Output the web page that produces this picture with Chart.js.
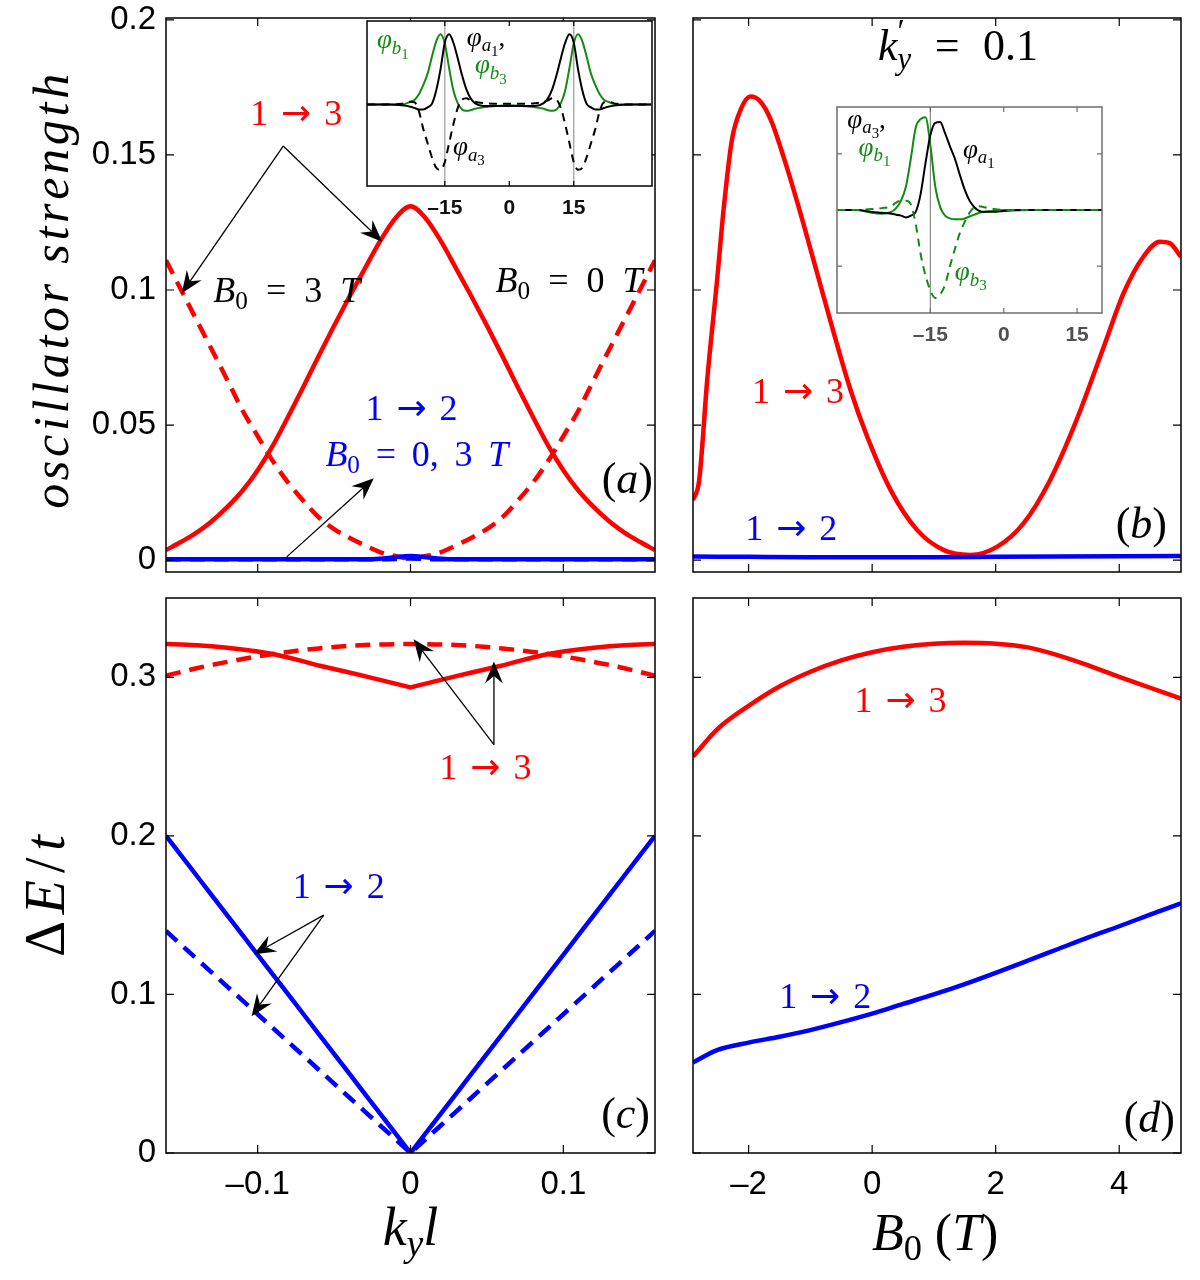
<!DOCTYPE html>
<html><head><meta charset="utf-8">
<script src="https://cdn.jsdelivr.net/npm/chart.js@4.4.1/dist/chart.umd.min.js"></script>
<style>
html,body{margin:0;padding:0;background:#fff;}
#wrap{position:relative;width:1200px;height:1280px;overflow:hidden;background:#fff;}
canvas{position:absolute;left:0;top:0;width:1200px;height:1280px;}
</style></head><body>
<div id="wrap">
<canvas id="cA" width="1200" height="1280"></canvas>
<canvas id="cB" width="1200" height="1280"></canvas>
<canvas id="cC" width="1200" height="1280"></canvas>
<canvas id="cD" width="1200" height="1280"></canvas>
<canvas id="cIA" width="1200" height="1280"></canvas>
<canvas id="cIB" width="1200" height="1280"></canvas>
</div>
<script>
// ---------------- DATA ----------------
const kyGrid = [-0.16,-0.15,-0.14,-0.13,-0.12,-0.11,-0.10,-0.09,-0.08,-0.07,-0.06,-0.05,-0.04,-0.03,-0.02,-0.01,0,0.01,0.02,0.03,0.04,0.05,0.06,0.07,0.08,0.09,0.10,0.11,0.12,0.13,0.14,0.15,0.16];

// (a) oscillator strength vs k_y l
const oscA13_B0 = [0.0037,0.0068,0.0102,0.0144,0.0196,0.0257,0.0333,0.0425,0.0532,0.0643,0.0757,0.0868,0.0975,0.1078,0.1180,0.1265,0.1310,0.1265,0.1180,0.1078,0.0975,0.0868,0.0757,0.0643,0.0532,0.0425,0.0333,0.0257,0.0196,0.0144,0.0102,0.0068,0.0037];
const oscA13_B3 = [0.1110,0.0999,0.0889,0.0779,0.0668,0.0555,0.0459,0.0366,0.0286,0.0219,0.0158,0.0115,0.0083,0.0055,0.0030,0.0015,0.0006,0.0015,0.0030,0.0055,0.0083,0.0115,0.0158,0.0219,0.0286,0.0366,0.0459,0.0555,0.0668,0.0779,0.0889,0.0999,0.1110];
const oscA12_B0 = [0.0003,0.0003,0.0003,0.0003,0.0003,0.0003,0.0003,0.0003,0.0003,0.0003,0.0003,0.0003,0.0003,0.0003,0.0005,0.0011,0.0015,0.0011,0.0005,0.0003,0.0003,0.0003,0.0003,0.0003,0.0003,0.0003,0.0003,0.0003,0.0003,0.0003,0.0003,0.0003,0.0003];
const oscA12_B3 = [0.0003,0.0003,0.0003,0.0003,0.0003,0.0003,0.0003,0.0003,0.0003,0.0003,0.0003,0.0003,0.0003,0.0003,0.0003,0.0004,0.0006,0.0004,0.0003,0.0003,0.0003,0.0003,0.0003,0.0003,0.0003,0.0003,0.0003,0.0003,0.0003,0.0003,0.0003,0.0003,0.0003];

// (b) oscillator strength vs B0 (k'_y = 0.1)
const b0B13 = [-2.9,-2.8,-2.67,-2.51,-2.4,-2.27,-2.13,-1.97,-1.81,-1.64,-1.43,-1.16,-0.89,-0.62,-0.35,-0.08,0.3,0.73,1.16,1.59,2.02,2.45,2.88,3.31,3.75,4.07,4.39,4.66,4.82,5.0];
const oscB13 = [0.0222,0.0296,0.0667,0.1037,0.1309,0.1556,0.1667,0.1716,0.1698,0.1630,0.1490,0.1284,0.1062,0.0840,0.0630,0.0457,0.0259,0.0111,0.0037,0.0019,0.0049,0.0136,0.0296,0.0519,0.0790,0.0988,0.1123,0.1179,0.1173,0.1123];
const b0B12 = [-2.9,-2,-1,0,1,2,3,4,5];
const oscB12 = [0.0013,0.0012,0.0011,0.0011,0.0011,0.0012,0.0013,0.0014,0.0015];

// (c) Delta E / t vs k_y l
const dEC13_B0 = [0.3210,0.3207,0.3202,0.3195,0.3186,0.3175,0.3162,0.3147,0.3125,0.3100,0.3074,0.3052,0.3030,0.3007,0.2984,0.2960,0.2936,0.2960,0.2984,0.3007,0.3030,0.3052,0.3074,0.3100,0.3125,0.3147,0.3162,0.3175,0.3186,0.3195,0.3202,0.3207,0.3210];
const dEC13_B3 = [0.3010,0.3034,0.3057,0.3078,0.3097,0.3115,0.3132,0.3147,0.3160,0.3172,0.3182,0.3191,0.3198,0.3203,0.3207,0.3209,0.3210,0.3209,0.3207,0.3203,0.3198,0.3191,0.3182,0.3172,0.3160,0.3147,0.3132,0.3115,0.3097,0.3078,0.3057,0.3034,0.3010];
const dEC12_B0 = [0.2000,0.1875,0.1750,0.1625,0.1500,0.1375,0.1250,0.1125,0.1000,0.0875,0.0750,0.0625,0.0500,0.0375,0.0250,0.0125,0.0000,0.0125,0.0250,0.0375,0.0500,0.0625,0.0750,0.0875,0.1000,0.1125,0.1250,0.1375,0.1500,0.1625,0.1750,0.1875,0.2000];
const dEC12_B3 = [0.1400,0.1313,0.1225,0.1138,0.1050,0.0963,0.0875,0.0788,0.0700,0.0613,0.0525,0.0438,0.0350,0.0263,0.0175,0.0088,0.0000,0.0088,0.0175,0.0263,0.0350,0.0438,0.0525,0.0613,0.0700,0.0788,0.0875,0.0963,0.1050,0.1138,0.1225,0.1313,0.1400];

// (d) Delta E / t vs B0
const b0D = [-2.9,-2.5,-2,-1.5,-1,-0.5,0,0.5,1,1.5,2,2.5,3,3.5,4,4.5,5];
const dED13 = [0.2500,0.2675,0.2820,0.2942,0.3035,0.3107,0.3158,0.3192,0.3212,0.3218,0.3212,0.3190,0.3140,0.3075,0.3003,0.2934,0.2865];
const dED12 = [0.0571,0.0650,0.0696,0.0733,0.0775,0.0825,0.0879,0.0940,0.1000,0.1065,0.1136,0.1210,0.1285,0.1360,0.1430,0.1503,0.1575];

// inset (a) wavefunctions
const xInsetA = [-33,-28,-25,-23,-22,-21,-20,-19,-18,-17,-16,-15,-14,-13,-12,-11,-10,-9,-8,-6,-3,0,3,6,8,9,10,11,12,13,14,15,16,17,18,19,20,21,22,23,25,28,33];
const phiA1_insA = [0,0,-0.01,-0.03,-0.05,-0.07,-0.07,-0.04,0.01,0.2,0.5,0.88,1.0,0.88,0.66,0.42,0.22,0.09,0.02,-0.02,-0.02,-0.02,-0.02,-0.02,0.02,0.09,0.22,0.42,0.66,0.88,1.0,0.88,0.5,0.2,0.01,-0.04,-0.07,-0.07,-0.05,-0.03,-0.01,0,0];
const phiB1_insA = [0,0,0,0.04,0.07,0.15,0.28,0.44,0.68,0.9,1.0,0.87,0.52,0.2,0.02,-0.07,-0.09,-0.08,-0.06,-0.04,-0.02,-0.01,-0.02,-0.04,-0.06,-0.08,-0.09,-0.07,0.02,0.2,0.52,0.87,1.0,0.9,0.68,0.44,0.28,0.15,0.07,0.04,0,0,0];
const phiA3_insA = [0,0,0.01,0.04,0.03,-0.1,-0.35,-0.55,-0.75,-0.9,-0.93,-0.82,-0.55,-0.28,-0.05,0.07,0.09,0.06,0.04,0.02,0.01,0.01,0.01,0.02,0.04,0.06,0.09,0.07,-0.05,-0.28,-0.55,-0.82,-0.93,-0.9,-0.75,-0.55,-0.35,-0.1,0.03,0.04,0.01,0,0];

// inset (b) wavefunctions
const xInsetB = [-34,-30,-27,-25,-23,-22,-21,-20,-19,-18,-17,-16,-15,-14,-13,-12,-11,-10,-9,-8,-7,-6,-5,-4,-2,0,5,10,15,20.1];
const phiA1_insB = [0,0,-0.02,-0.03,-0.04,-0.05,-0.06,-0.08,-0.06,-0.02,0.17,0.5,0.8,0.93,0.94,0.82,0.68,0.55,0.38,0.22,0.1,0.03,-0.01,-0.02,-0.02,-0.01,0,0,0,0];
const phiB1_insB = [0,0,-0.03,-0.04,-0.02,0.02,0.1,0.25,0.55,0.88,0.97,0.99,0.69,0.25,0.03,-0.06,-0.09,-0.1,-0.1,-0.09,-0.07,-0.05,-0.03,-0.02,-0.01,0,0,0,0,0];
const phiB3_insB = [0,0,0.01,0.02,0.04,0.08,0.1,0.1,0.06,-0.15,-0.47,-0.7,-0.86,-0.94,-0.9,-0.8,-0.6,-0.42,-0.25,-0.13,-0.03,0.03,0.04,0.03,0.01,0,0,0,0,0];

// ticks
const oscTicks = [0,0.05,0.1,0.15,0.2];
const oscTickLabels = ['0','0.05','0.1','0.15','0.2'];
const dETicks = [0,0.1,0.2,0.3];
const dETickLabels = ['0','0.1','0.2','0.3'];
const kyTicks = [-0.1,0,0.1];
const kyTickLabels = ['\u20130.1','0','0.1'];
const b0Ticks = [-2,0,2,4];
const b0TickLabels = ['\u20132','0','2','4'];
const insetTicks = [-15,0,15];
const insetTickLabels = ['\u201315','0','15'];
const insetAVLines = [-15,15];
const insetBVLines = [-15];
const insetBYTicks = [-0.6,0.6];

// ---------------- STYLE ----------------
const RED = '#ff0000', BLUE = '#0000ff', GREEN = '#138a13', BLACK = '#000000';
const SERIF = '"Liberation Serif","DejaVu Serif",serif';
const ARROWFONT = '"DejaVu Sans",sans-serif';
const SANS = '"Liberation Sans",Arial,Helvetica,sans-serif';
const PAGE_W = 1200, PAGE_H = 1280;

const pts = (xs, ys) => xs.map((x, i) => ({x: x, y: ys[i]}));

function segStyle(st) {
  return ({r:[0,1,0,SERIF], i:[1,1,0,SERIF], s:[0,0.7,0.2,SERIF], si:[1,0.7,0.2,SERIF],
           ss:[0,0.55,0.38,SERIF], p:[0,0.75,-0.42,SERIF], a:[0,1,0,ARROWFONT]})[st];
}
function layoutRich(ctx, segs, size, sp, mode) {
  let x = 0, items = [], prevStart = 0, prevEnd = 0, maxX = 0, nChar = 0, nSpace = 0;
  for (const sg of segs) {
    const t = sg[0], st = sg[1], back = sg[2];
    const s = segStyle(st);
    const font = (s[0] ? 'italic ' : '') + Math.round(size * s[1] * 10) / 10 + 'px ' + s[3];
    ctx.font = font;
    let start = back ? prevStart : x;
    let cx = start;
    Array.from(t).forEach(c => {
      const w = ctx.measureText(c).width;
      items.push({t: c, font: font, x: cx, dy: s[2] * size});
      cx += w;
      if (c === ' ') { nSpace++; if (mode === 'space') cx += sp; }
      nChar++;
      if (mode === 'char' && sp) cx += sp;
    });
    const end = cx;
    x = back ? Math.max(end, prevEnd) : end;
    prevStart = start; prevEnd = end;
    maxX = Math.max(maxX, x);
  }
  if (mode === 'char' && sp) maxX -= sp;
  return {items: items, width: maxX, nChar: nChar, nSpace: nSpace};
}
function drawRich(ctx, segs, x, y, size, color, align, rot, fit, fitMode) {
  ctx.save();
  ctx.translate(x, y);
  if (rot) ctx.rotate(rot);
  ctx.fillStyle = color;
  ctx.textBaseline = 'alphabetic';
  ctx.textAlign = 'left';
  let L = layoutRich(ctx, segs, size, 0, null);
  if (fit) {
    const mode = fitMode || 'space';
    const n = mode === 'space' ? L.nSpace : Math.max(1, L.nChar - 1);
    if (n > 0) L = layoutRich(ctx, segs, size, (fit - L.width) / n, mode);
  }
  const x0 = align === 'center' ? -L.width / 2 : (align === 'right' ? -L.width : 0);
  for (const it of L.items) {
    ctx.font = it.font;
    ctx.fillText(it.t, x0 + it.x, it.dy);
  }
  ctx.restore();
}
function drawArrow(ctx, x1, y1, x2, y2) {
  const dx = x2 - x1, dy = y2 - y1, len = Math.hypot(dx, dy);
  const ux = dx / len, uy = dy / len, nx = -uy, ny = ux;
  const L = 22, W = 9, N = 0.66;
  ctx.save();
  ctx.strokeStyle = '#000'; ctx.lineWidth = 1.3;
  ctx.beginPath(); ctx.moveTo(x1, y1); ctx.lineTo(x2 - ux * L * N, y2 - uy * L * N); ctx.stroke();
  ctx.fillStyle = '#000';
  ctx.beginPath();
  ctx.moveTo(x2, y2);
  ctx.lineTo(x2 - ux * L + nx * W, y2 - uy * L + ny * W);
  ctx.lineTo(x2 - ux * L * N, y2 - uy * L * N);
  ctx.lineTo(x2 - ux * L - nx * W, y2 - uy * L - ny * W);
  ctx.closePath(); ctx.fill();
  ctx.restore();
}
function px(chart, v, off) {
  const a = chart.chartArea;
  const p = v === 'left' ? a.left : v === 'right' ? a.right : chart.scales.x.getPixelForValue(v);
  return p + (off || 0);
}
function py(chart, v, off) {
  const a = chart.chartArea;
  const p = v === 'top' ? a.top : v === 'bottom' ? a.bottom : chart.scales.y.getPixelForValue(v);
  return p + (off || 0);
}

function deco(spec) {
  return {
    id: 'deco',
    beforeDraw(chart) {
      if (!spec.bg) return;
      const a = chart.chartArea, ctx = chart.ctx;
      ctx.save(); ctx.fillStyle = '#fff';
      ctx.fillRect(a.left, a.top, a.right - a.left, a.bottom - a.top);
      ctx.restore();
    },
    beforeDatasetsDraw(chart) {
      if (!spec.vlines) return;
      const a = chart.chartArea, ctx = chart.ctx;
      ctx.save(); ctx.strokeStyle = spec.vlineColor || '#999'; ctx.lineWidth = 1.2;
      for (const v of spec.vlines) {
        const x = chart.scales.x.getPixelForValue(v);
        ctx.beginPath(); ctx.moveTo(x, a.top); ctx.lineTo(x, a.bottom); ctx.stroke();
      }
      ctx.restore();
    },
    afterDatasetsDraw(chart) {
      const a = chart.chartArea, ctx = chart.ctx;
      ctx.save();
      ctx.strokeStyle = spec.frameColor || '#000';
      ctx.lineWidth = spec.frameWidth || 1.5;
      ctx.strokeRect(a.left, a.top, a.right - a.left, a.bottom - a.top);
      const tl = spec.tickLen || 8;
      ctx.lineWidth = 1.2;
      for (const v of (spec.xMarks || [])) {
        const x = chart.scales.x.getPixelForValue(v);
        ctx.beginPath();
        ctx.moveTo(x, a.bottom); ctx.lineTo(x, a.bottom - tl);
        ctx.moveTo(x, a.top); ctx.lineTo(x, a.top + tl);
        ctx.stroke();
      }
      for (const v of (spec.yMarks || [])) {
        const y = chart.scales.y.getPixelForValue(v);
        ctx.beginPath();
        ctx.moveTo(a.left, y); ctx.lineTo(a.left + tl, y);
        ctx.moveTo(a.right, y); ctx.lineTo(a.right - tl, y);
        ctx.stroke();
      }
      ctx.restore();
      for (const ar of (spec.arrows || [])) {
        drawArrow(ctx, px(chart, ar[0]), py(chart, ar[1]), px(chart, ar[2]), py(chart, ar[3]));
      }
      for (const t of (spec.texts || [])) {
        drawRich(ctx, t.segs, px(chart, t.ax, t.dx), py(chart, t.ay, t.dy), t.size, t.color || '#000',
                 t.align || 'left', t.rot || 0, t.fit, t.fitMode);
      }
    }
  };
}

function line(data, color, width, dash, mono) {
  return {data: data, borderColor: color, borderWidth: width, borderDash: dash || [], pointRadius: 0,
          fill: false, tension: 0, cubicInterpolationMode: mono ? 'monotone' : 'default',
          borderCapStyle: 'butt', borderJoinStyle: 'round'};
}

function zeroPad(s) { s.paddingTop = 0; s.paddingBottom = 0; s.paddingLeft = 0; s.paddingRight = 0; }

function makeChart(id, box, xr, yr, datasets, o) {
  const tickFont = o.tickFont || {family: SANS, size: 33};
  return new Chart(document.getElementById(id), {
    type: 'line',
    data: {datasets: datasets},
    options: {
      responsive: false, animation: false, devicePixelRatio: 1, events: [],
      layout: {padding: {left: 0, top: box.t, right: PAGE_W - box.r, bottom: 0}},
      plugins: {legend: {display: false}, tooltip: {enabled: false}},
      scales: {
        x: {type: 'linear', position: 'bottom', min: xr[0], max: xr[1],
            grid: {display: false, drawTicks: false}, border: {display: false},
            ticks: {display: !!o.xLabels, font: tickFont, color: o.tickColor || '#000', padding: o.xPad || 12,
                    maxRotation: 0, autoSkip: false,
                    callback: v => o.xLabels ? o.xLabels[o.xTicks.indexOf(v)] : ''},
            afterBuildTicks: s => { s.ticks = (o.xTicks || []).map(v => ({value: v})); },
            afterFit: s => { s.height = PAGE_H - box.b; zeroPad(s); }},
        y: {type: 'linear', position: 'left', min: yr[0], max: yr[1],
            grid: {display: false, drawTicks: false}, border: {display: false},
            ticks: {display: !!o.yLabels, font: tickFont, color: '#000', padding: 10, autoSkip: false,
                    callback: v => o.yLabels ? o.yLabels[o.yTicks.indexOf(v)] : ''},
            afterBuildTicks: s => { s.ticks = (o.yTicks || []).map(v => ({value: v})); },
            afterFit: s => { s.width = box.l; zeroPad(s); }}
      }
    },
    plugins: [deco(o.deco)]
  });
}

const S = (t, st, back) => [t, st, back];
const trans = (a, b) => [S(a + ' ', 'r'), S('\u2192', 'a'), S(' ' + b, 'r')];

// ---------------- PANEL (a) ----------------
makeChart('cA', {l:166, t:18, r:655, b:572}, [-0.16, 0.16], [-0.0044, 0.2007], [
  line(pts(kyGrid, oscA12_B3), BLUE, 4.5, [15, 9], true),
  line(pts(kyGrid, oscA12_B0), BLUE, 4.5, null, true),
  line(pts(kyGrid, oscA13_B0), RED, 4.5, null, true),
  line(pts(kyGrid, oscA13_B3), RED, 4.5, [15, 9], true)
], {
  xTicks: kyTicks, yTicks: oscTicks, yLabels: oscTickLabels,
  deco: {
    xMarks: kyTicks, yMarks: oscTicks,
    arrows: [[-0.0833, 0.1533, -0.0186, 0.1179], [-0.0833, 0.1533, -0.1497, 0.0988], [-0.081, 0.0012, -0.024, 0.0303]],
    texts: [
      {ax: -0.0748, ay: 0.1611, segs: trans('1', '3'), size: 36, color: RED, align: 'center', fit: 92},
      {ax: -0.129, ay: 0.0957, segs: [S('B','i'), S('0','s'), S(' = 3 ','r'), S('T','i')], size: 36, fit: 147},
      {ax: 0.0557, ay: 0.0994, segs: [S('B','i'), S('0','s'), S(' = 0 ','r'), S('T','i')], size: 36, fit: 147},
      {ax: 0.0007, ay: 0.0519, segs: trans('1', '2'), size: 36, color: BLUE, align: 'center', fit: 92},
      {ax: -0.0557, ay: 0.0348, segs: [S('B','i'), S('0','s'), S(' = 0, 3 ','r'), S('T','i')], size: 36, color: BLUE, fit: 183},
      {ax: 'right', dx: -2, ay: 0.0248, segs: [S('(','r'), S('a','i'), S(')','r')], size: 44, align: 'right'},
      {ax: 'left', dx: -98, ay: 0.0995, segs: [S('oscillator strength','i')], size: 50, align: 'center', rot: -Math.PI / 2, fit: 435, fitMode: 'char'}
    ]
  }
});

// ---------------- PANEL (b) ----------------
makeChart('cB', {l:693, t:18, r:1181, b:572}, [-2.9, 5.0], [-0.0044, 0.2007], [
  line(pts(b0B12, oscB12), BLUE, 4.5, null, true),
  line(pts(b0B13, oscB13), RED, 4.5, null, true)
], {
  xTicks: b0Ticks, yTicks: oscTicks,
  deco: {
    xMarks: b0Ticks, yMarks: oscTicks,
    texts: [
      {ax: 1.39, ay: 0.185, segs: [S('k','i'), S('\u2032','p'), S('y','si',true), S(' = 0.1','r')], size: 44, align: 'center', fit: 160},
      {ax: -1.2, ay: 0.0581, segs: trans('1', '3'), size: 36, color: RED, align: 'center', fit: 92},
      {ax: -1.31, ay: 0.0074, segs: trans('1', '2'), size: 36, color: BLUE, align: 'center', fit: 92},
      {ax: 'right', dx: -14, ay: 0.0081, segs: [S('(','r'), S('b','i'), S(')','r')], size: 44, align: 'right'}
    ]
  }
});

// ---------------- PANEL (c) ----------------
makeChart('cC', {l:166, t:598, r:655, b:1153}, [-0.16, 0.16], [0, 0.35], [
  line(pts(kyGrid, dEC13_B3), RED, 4.5, [15, 9], true),
  line(pts(kyGrid, dEC13_B0), RED, 4.5),
  line(pts(kyGrid, dEC12_B3), BLUE, 4.5, [15, 9]),
  line(pts(kyGrid, dEC12_B0), BLUE, 4.5)
], {
  xTicks: kyTicks, xLabels: kyTickLabels, yTicks: dETicks, yLabels: dETickLabels,
  deco: {
    xMarks: kyTicks, yMarks: dETicks,
    arrows: [[0.0546, 0.2575, 0.002, 0.324], [0.0546, 0.2575, 0.0546, 0.310], [-0.0568, 0.150, -0.1026, 0.1253], [-0.0568, 0.150, -0.104, 0.0862]],
    texts: [
      {ax: 0.049, ay: 0.2356, segs: trans('1', '3'), size: 36, color: RED, align: 'center', fit: 92},
      {ax: -0.047, ay: 0.161, segs: trans('1', '2'), size: 36, color: BLUE, align: 'center', fit: 92},
      {ax: 'right', dx: -5, ay: 0.0155, segs: [S('(','r'), S('c','i'), S(')','r')], size: 44, align: 'right'},
      {ax: 'left', dx: -102, ay: 0.162, segs: [S('\u0394','r'), S('E','i'), S('/','r'), S('t','i')], size: 56, align: 'center', rot: -Math.PI / 2, fit: 122, fitMode: 'char'},
      {ax: 0, ay: 'bottom', dy: 92, segs: [S('k','i'), S('y','si'), S('l','i')], size: 54, align: 'center'}
    ]
  }
});

// ---------------- PANEL (d) ----------------
makeChart('cD', {l:693, t:598, r:1181, b:1153}, [-2.9, 5.0], [0, 0.35], [
  line(pts(b0D, dED13), RED, 4.5, null, true),
  line(pts(b0D, dED12), BLUE, 4.5, null, true)
], {
  xTicks: b0Ticks, xLabels: b0TickLabels, yTicks: dETicks,
  deco: {
    xMarks: b0Ticks, yMarks: dETicks,
    texts: [
      {ax: 0.46, ay: 0.278, segs: trans('1', '3'), size: 36, color: RED, align: 'center', fit: 92},
      {ax: -0.76, ay: 0.0916, segs: trans('1', '2'), size: 36, color: BLUE, align: 'center', fit: 92},
      {ax: 'right', dx: -6, ay: 0.013, segs: [S('(','r'), S('d','i'), S(')','r')], size: 44, align: 'right'},
      {ax: 1.02, ay: 'bottom', dy: 97, segs: [S('B','i'), S('0','s'), S(' (','r'), S('T','i'), S(')','r')], size: 52, align: 'center'}
    ]
  }
});

// ---------------- INSET (a) ----------------
const phiLbl = (l, n, comma) => [S('\u03c6','i'), S(l,'si'), S(n,'ss')].concat(comma ? [S(',','r')] : []);
makeChart('cIA', {l:367, t:21, r:652, b:186}, [-33.1, 33.2], [-1.16, 1.19], [
  line(pts(xInsetA, phiA3_insA), BLACK, 2, [8, 6], true),
  line(pts(xInsetA, phiA1_insA), BLACK, 2, null, true),
  line(pts(xInsetA, phiB1_insA), GREEN, 2, null, true)
], {
  xTicks: insetTicks, xLabels: insetTickLabels, tickFont: {family: SANS, size: 21, weight: 'bold'}, tickColor: '#111', xPad: 10,
  deco: {
    bg: true, frameColor: '#000', frameWidth: 1.5, tickLen: 5,
    xMarks: insetTicks, vlines: insetAVLines, vlineColor: '#9a9a9a',
    texts: [
      {ax: -30.8, ay: 0.80, segs: phiLbl('b','1'), size: 27, color: GREEN},
      {ax: -9.9, ay: 0.84, segs: phiLbl('a','1', true), size: 27, color: BLACK},
      {ax: -8.0, ay: 0.445, segs: phiLbl('b','3'), size: 27, color: GREEN},
      {ax: -13.1, ay: -0.72, segs: phiLbl('a','3'), size: 27, color: BLACK}
    ]
  }
});

// ---------------- INSET (b) ----------------
makeChart('cIB', {l:837, t:107, r:1102, b:313}, [-34.1, 20.1], [-1.1, 1.1], [
  line(pts(xInsetB, phiB3_insB), GREEN, 2, [8, 6], true),
  line(pts(xInsetB, phiA1_insB), BLACK, 2, null, true),
  line(pts(xInsetB, phiB1_insB), GREEN, 2, null, true)
], {
  xTicks: insetTicks, xLabels: insetTickLabels, tickFont: {family: SANS, size: 21, weight: 'bold'}, tickColor: '#505050', xPad: 10,
  deco: {
    bg: true, frameColor: '#6e6e6e', frameWidth: 1.5, tickLen: 5,
    xMarks: insetTicks, yMarks: insetBYTicks, vlines: insetBVLines, vlineColor: '#8a8a8a',
    texts: [
      {ax: -32.0, ay: 0.876, segs: phiLbl('a','3', true), size: 27, color: BLACK},
      {ax: -29.7, ay: 0.576, segs: phiLbl('b','1'), size: 27, color: GREEN},
      {ax: -8.35, ay: 0.558, segs: phiLbl('a','1'), size: 27, color: BLACK},
      {ax: -10.0, ay: -0.75, segs: phiLbl('b','3'), size: 27, color: GREEN}
    ]
  }
});
</script>
</body></html>
